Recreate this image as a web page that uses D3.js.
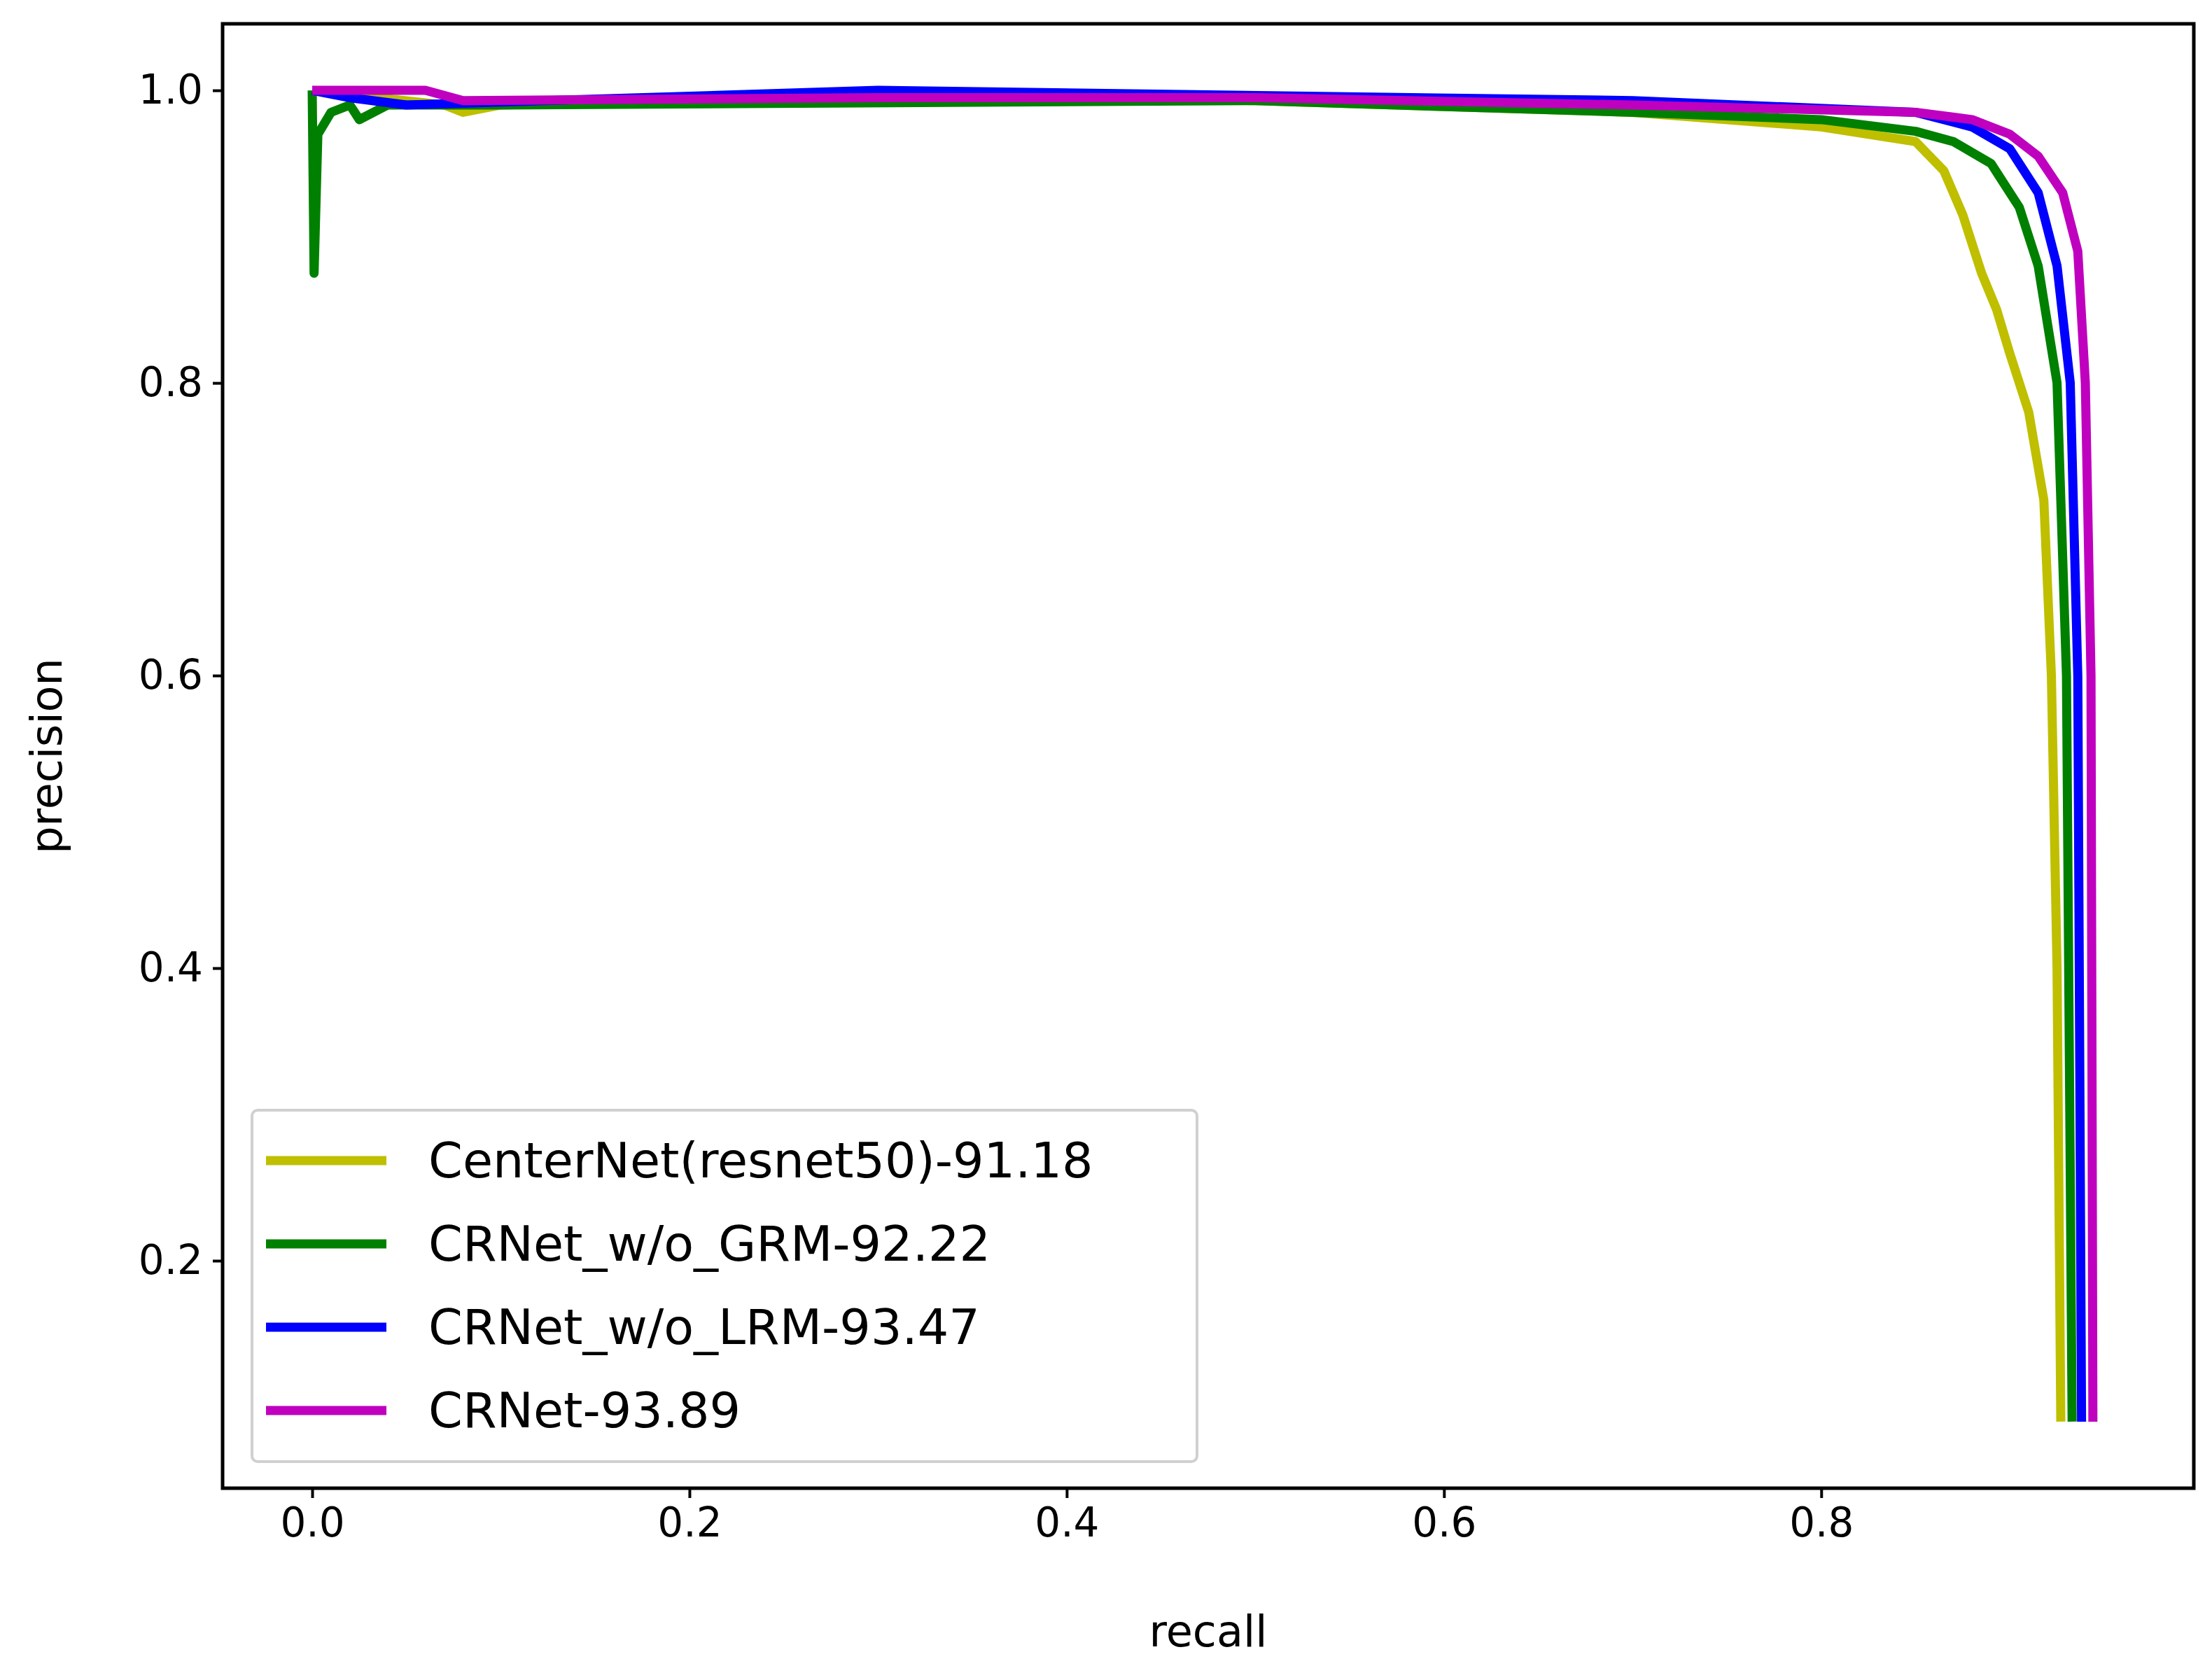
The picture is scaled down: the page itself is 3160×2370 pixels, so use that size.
<!DOCTYPE html>
<html><head><meta charset="utf-8">
<script src="https://cdn.jsdelivr.net/npm/d3@7"></script>
<style>body{margin:0;background:#fff}text{font-family:"DejaVu Sans",sans-serif}</style>
</head><body><svg id="c" width="3160" height="2370"></svg>
<script>
const names=["CenterNet(resnet50)-91.18","CRNet_w/o_GRM-92.22","CRNet_w/o_LRM-93.47","CRNet-93.89"];
const colors=["#bfbf00","#008000","#0000ff","#bf00bf"];
const yellow=[[0,1.0],[0.07,0.99],[0.08,0.985],[0.1,0.99],[0.3,0.995],[0.5,0.993],[0.7,0.985],[0.8,0.975],[0.85,0.965],[0.865,0.945],[0.875,0.915],[0.885,0.875],[0.893,0.85],[0.9,0.82],[0.91,0.78],[0.918,0.72],[0.922,0.6],[0.925,0.4],[0.927,0.09]];
const green=[[0,1.0],[0.001,0.875],[0.003,0.97],[0.01,0.985],[0.02,0.99],[0.025,0.98],[0.04,0.99],[0.1,0.99],[0.5,0.993],[0.7,0.985],[0.8,0.98],[0.85,0.972],[0.87,0.965],[0.89,0.95],[0.905,0.92],[0.915,0.88],[0.925,0.8],[0.93,0.6],[0.933,0.09]];
const blue=[[0,1.0],[0.02,0.995],[0.05,0.99],[0.3,1.0],[0.7,0.993],[0.85,0.985],[0.88,0.975],[0.9,0.96],[0.915,0.93],[0.925,0.88],[0.932,0.8],[0.936,0.6],[0.938,0.09]];
const magenta=[[0,1.0],[0.06,1.0],[0.08,0.993],[0.3,0.995],[0.5,0.995],[0.7,0.99],[0.85,0.985],[0.88,0.98],[0.9,0.97],[0.915,0.955],[0.928,0.93],[0.936,0.89],[0.94,0.8],[0.943,0.6],[0.944,0.09]];
const series=[yellow,green,blue,magenta];
const xTicks=[0,0.2,0.4,0.6,0.8], yTicks=[0.2,0.4,0.6,0.8,1.0];

const L=318,R=3134,T=34,B=2126;
const svg=d3.select("#c");
const x=d3.scaleLinear().domain([-0.0475,0.9975]).range([L,R]);
const y=d3.scaleLinear().domain([0.0445,1.0455]).range([B,T]);
const line=d3.line().x(d=>x(d[0])).y(d=>y(d[1]));
series.forEach((s,i)=>svg.append("path").attr("d",line(s)).attr("fill","none")
  .attr("stroke",colors[i]).attr("stroke-width",13).attr("stroke-linejoin","round"));
const gx=svg.append("g").attr("transform",`translate(0,${B})`)
  .call(d3.axisBottom(x).tickValues(xTicks).tickFormat(d3.format(".1f")).tickSize(14).tickPadding(14));
const gy=svg.append("g").attr("transform",`translate(${L},0)`)
  .call(d3.axisLeft(y).tickValues(yTicks).tickFormat(d3.format(".1f")).tickSize(14).tickPadding(14));
[gx,gy].forEach(g=>{g.select(".domain").remove();g.selectAll("line").attr("stroke","#000").attr("stroke-width",4);
  g.selectAll("text").attr("font-size",58).attr("fill","#000").attr("font-family","DejaVu Sans");});
svg.append("rect").attr("x",L).attr("y",T).attr("width",R-L).attr("height",B-T)
  .attr("fill","none").attr("stroke","#000").attr("stroke-width",5);
svg.append("text").attr("x",(L+R)/2).attr("y",2352).attr("text-anchor","middle").attr("font-size",62).text("recall");
svg.append("text").attr("transform",`translate(88,${(T+B)/2}) rotate(-90)`).attr("text-anchor","middle").attr("font-size",62).text("precision");
// legend
const lg=svg.append("g");
lg.append("rect").attr("x",360).attr("y",1586).attr("width",1350).attr("height",502).attr("rx",8)
  .attr("fill","#fff").attr("fill-opacity",0.8).attr("stroke","#d0d0d0").attr("stroke-width",4);
names.forEach((n,i)=>{
  const yy=1658+i*119;
  lg.append("line").attr("x1",380).attr("x2",552).attr("y1",yy).attr("y2",yy).attr("stroke",colors[i]).attr("stroke-width",13);
  lg.append("text").attr("x",612).attr("y",yy+24).attr("font-size",70).text(n);
});
</script></body></html>
